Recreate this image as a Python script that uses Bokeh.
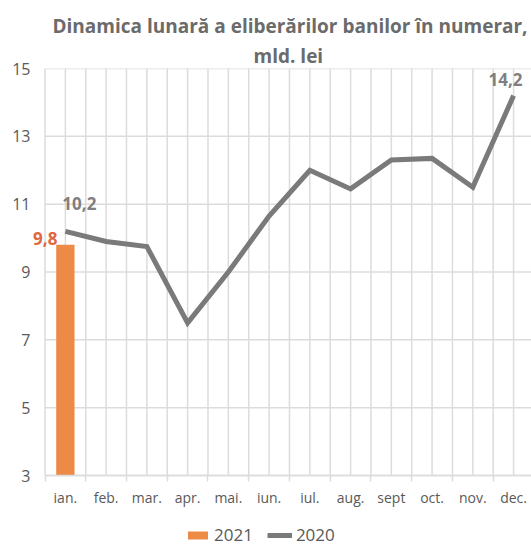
from bokeh.plotting import figure
from bokeh.models import (ColumnDataSource, FixedTicker, Legend, LegendItem, Title, LabelSet)
from bokeh.core.properties import value
from bokeh.embed import file_html
from bokeh.resources import INLINE

# ---- data ----
months = ["ian.", "feb.", "mar.", "apr.", "mai.", "iun.", "iul.", "aug.", "sept", "oct.", "nov.", "dec."]
series_2020 = [10.2, 9.9, 9.75, 7.5, 9.0, 10.65, 12.0, 11.45, 12.3, 12.35, 11.5, 14.2]
months_2021 = ["ian."]
series_2021 = [9.8]
y_ticks = [3, 5, 7, 9, 11, 13, 15]
title_line1 = "Dinamica lunară a eliberărilor banilor în numerar,"
title_line2 = "mld. lei"

FONT = "Open Sans"
GRID = "#dcdcdc"
TXT = "#595959"
ORANGE = "#ED8A45"
GRAY_LINE = "#7a7a7a"

pos = {m: i + 0.5 for i, m in enumerate(months)}
n = len(months)
y_lo, y_hi = y_ticks[0], y_ticks[-1]

src20 = ColumnDataSource(dict(x=[pos[m] for m in months], y=series_2020))
src21 = ColumnDataSource(dict(x=[pos[m] for m in months_2021], y=series_2021,
                              bottom=[y_lo] * len(series_2021)))

# frame extends below the value axis so the legend can sit inside it
p = figure(width=531, height=546, x_range=(-0.356, 11.94), y_range=(0.907, y_hi),
           output_backend="svg", toolbar_location=None, title=None,
           min_border_left=30, min_border_right=0, min_border_top=68, min_border_bottom=0)
p.outline_line_color = None
p.background_fill_color = "white"
p.border_fill_color = "white"

# gridlines only over the plotting area
hx = [i * 0.5 for i in range(0, 2 * n + 1)]
p.segment(x0=[0] * len(y_ticks), x1=[n] * len(y_ticks), y0=y_ticks, y1=y_ticks,
          line_color=GRID, line_width=1.5, level="underlay")
p.segment(x0=hx, x1=hx, y0=[y_lo] * len(hx), y1=[y_hi] * len(hx),
          line_color=GRID, line_width=1.5, level="underlay")

bar = p.vbar(x="x", top="y", bottom="bottom", width=0.45, source=src21,
             fill_color=ORANGE, line_color=None)
line = p.line(x="x", y="y", source=src20, line_color=GRAY_LINE, line_width=5, line_join="miter")

# data labels
def fmt(v):
    return f"{v:.1f}".replace(".", ",")

lab20 = ColumnDataSource(dict(x=[src20.data["x"][0], src20.data["x"][-1]],
                              y=[series_2020[0], series_2020[-1]],
                              t=[fmt(series_2020[0]), fmt(series_2020[-1])],
                              xo=[14, -8], yo=[28, 16]))
p.add_layout(LabelSet(x="x", y="y", text="t", x_offset="xo", y_offset="yo", source=lab20,
                      text_font=value(FONT), text_font_size=value("17px"), text_font_style=value("bold"),
                      text_color=value("#7f7f7f"), text_align=value("center"),
                      text_baseline=value("middle")))
lab21 = ColumnDataSource(dict(x=src21.data["x"], y=series_2021, t=[fmt(v) for v in series_2021]))
p.add_layout(LabelSet(x="x", y="y", text="t", x_offset=-8, y_offset=6, source=lab21,
                      text_font=value(FONT), text_font_size=value("17px"), text_font_style=value("bold"),
                      text_color=value("#E0663C"), text_align=value("right"),
                      text_baseline=value("middle")))

# axes
p.yaxis.ticker = FixedTicker(ticks=y_ticks)
p.yaxis.axis_line_color = None
p.yaxis.major_tick_line_color = None
p.yaxis.major_tick_out = 0
p.yaxis.major_tick_in = 0
p.yaxis.minor_tick_line_color = None
p.yaxis.major_label_text_font = FONT
p.yaxis.major_label_text_font_size = "16px"
p.yaxis.major_label_text_color = TXT
p.yaxis.major_label_standoff = 0

p.xaxis.fixed_location = y_lo
p.xaxis.ticker = FixedTicker(ticks=[pos[m] for m in months], minor_ticks=list(range(0, n + 1)))
p.xaxis.major_label_overrides = {pos[m]: m for m in months}
p.xaxis.bounds = (0, n)
p.xaxis.axis_line_color = GRID
p.xaxis.axis_line_width = 1.5
p.xaxis.major_tick_line_color = None
p.xaxis.minor_tick_line_color = GRID
p.xaxis.minor_tick_line_width = 1.5
p.xaxis.minor_tick_out = 6
p.xaxis.minor_tick_in = 0
p.xaxis.major_label_text_font = FONT
p.xaxis.major_label_text_font_size = "14px"
p.xaxis.major_label_text_color = TXT
p.xaxis.major_label_standoff = 6

p.xgrid.grid_line_color = None
p.ygrid.grid_line_color = None

# title (two lines)
p.add_layout(Title(text=title_line2, align="left", offset=223, text_font=FONT, text_font_size="19px",
                   text_font_style="bold", text_color="#6b6b6b", standoff=0), "above")
p.add_layout(Title(text=title_line1, align="left", offset=22, text_font=FONT, text_font_size="19px",
                   text_font_style="bold", text_color="#6b6b6b", standoff=3), "above")

legend = Legend(items=[LegendItem(label="2021", renderers=[bar]),
                       LegendItem(label="2020", renderers=[line])],
                orientation="horizontal", location=(155, 0),
                label_text_font=FONT, label_text_font_size="17px", label_text_color=TXT,
                glyph_width=25, glyph_height=10, label_standoff=4, spacing=14,
                padding=0, margin=0, border_line_color=None, background_fill_alpha=0)
p.add_layout(legend, "center")

open("out.html", "w").write(file_html(p, INLINE))
